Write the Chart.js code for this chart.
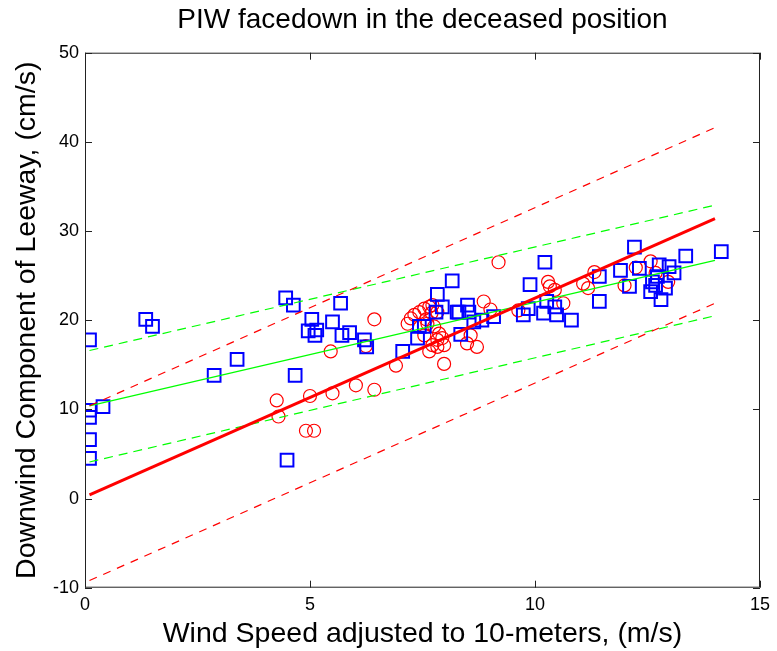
<!DOCTYPE html>
<html>
<head>
<meta charset="utf-8">
<script src="https://cdn.jsdelivr.net/npm/chart.js@4.4.1/dist/chart.umd.min.js"></script>
<style>
  html, body { margin: 0; padding: 0; background: #fff; }
  #wrap { width: 777px; height: 651px; }
</style>
</head>
<body>
<div id="wrap"><canvas id="c" width="777" height="651"></canvas></div>
<script>
// ---- data ----
const squaresX = [0.1,0.1,0.1,0.1,0.1,0.4,1.35,1.5,2.87,3.38,4.46,4.63,4.67,4.49,5.04,4.96,5.11,5.15,5.5,5.68,5.71,5.88,6.21,6.26,7.06,7.39,7.43,7.54,7.8,7.83,7.94,8.16,8.27,8.31,8.35,8.5,8.53,8.64,8.82,9.08,9.74,9.85,9.89,10.19,10.22,10.26,10.44,10.48,10.81,11.43,11.43,11.9,12.1,12.21,12.32,12.57,12.61,12.68,12.72,12.76,12.8,12.9,12.98,13.09,13.35,14.14];
const squaresY = [17.8,9.9,9.1,6.6,4.5,10.3,20.1,19.3,13.8,15.6,22.5,21.7,13.8,4.3,20.1,18.8,18.3,18.9,19.8,21.9,18.3,18.6,17.8,17.0,16.5,18.0,19.3,19.3,20.9,22.9,21.5,24.4,20.9,20.9,18.4,21.7,20.9,19.8,20.0,20.4,20.6,21.3,24.0,20.8,26.5,22.1,21.5,20.6,20.0,24.9,22.1,25.6,23.8,28.2,25.8,23.2,24.3,23.9,24.9,26.2,22.3,23.6,26.0,25.3,27.2,27.7];
const circlesX = [4.26,4.3,4.91,5.09,5.0,5.46,5.5,6.02,6.24,6.43,6.43,6.91,7.17,7.24,7.32,7.43,7.54,7.65,7.72,7.83,7.61,7.76,7.54,7.87,7.94,7.72,7.83,7.65,7.98,7.98,7.7,7.58,7.83,8.49,8.71,8.57,8.86,9.01,9.19,9.63,10.29,10.33,10.44,10.63,11.07,11.18,11.32,11.99,12.24,12.57,12.68,12.96];
const circlesY = [11.0,9.2,7.6,7.6,11.5,16.5,11.8,12.7,17.1,20.1,12.2,14.9,19.6,20.2,20.6,20.9,21.3,21.5,21.7,20.9,19.6,19.3,18.3,18.5,18.0,17.2,17.0,16.5,17.2,15.1,20.8,20.1,17.8,17.4,17.0,18.3,22.1,21.2,26.5,21.1,24.3,23.8,23.4,21.9,24.1,23.6,25.4,23.9,25.9,26.6,25.3,24.3];
// fitted lines: value at start x and end x
const lineX = [0.1, 14.0];
const fitRed = [0.4, 31.4];
const fitRedUpper = [10.4, 41.6];
const fitRedLower = [-9.2, 21.9];
const fitGreen = [10.4, 26.7];
const fitGreenUpper = [16.6, 32.9];
const fitGreenLower = [4.1, 20.5];
const xTicks = [0, 5, 10, 15];
const yTicks = [-10, 0, 10, 20, 30, 40, 50];

const pts = (xs, ys) => xs.map((x, i) => ({x, y: ys[i]}));
const FONT = "'Liberation Sans', Arial, Helvetica, sans-serif";

function lineDs(ys, color, width, dash, order) {
  return { type: 'scatter', data: pts(lineX, ys), showLine: true, borderColor: color,
           backgroundColor: color, borderWidth: width, borderDash: dash, pointRadius: 0,
           pointHoverRadius: 0, order };
}

const frame = {
  id: 'frame',
  afterDatasetsDraw(chart) {
    const {ctx, chartArea: a, scales: {x, y}} = chart;
    ctx.save();
    ctx.strokeStyle = '#222';
    ctx.lineWidth = 1;
    ctx.strokeRect(a.left + 0.5, a.top + 0.5, a.right - a.left - 1, a.bottom - a.top - 1);
    const tl = 7;
    ctx.beginPath();
    xTicks.forEach(v => {
      const px = Math.round(x.getPixelForValue(v)) + 0.5;
      ctx.moveTo(px, a.bottom); ctx.lineTo(px, a.bottom - tl);
      ctx.moveTo(px, a.top); ctx.lineTo(px, a.top + tl);
    });
    yTicks.forEach(v => {
      const py = Math.round(y.getPixelForValue(v)) + 0.5;
      ctx.moveTo(a.left, py); ctx.lineTo(a.left + tl, py);
      ctx.moveTo(a.right, py); ctx.lineTo(a.right - tl, py);
    });
    ctx.stroke();
    ctx.restore();
  }
};

new Chart(document.getElementById('c'), {
  type: 'scatter',
  data: {
    datasets: [
      lineDs(fitRed, '#ff0000', 3, [], 0),
      lineDs(fitRedUpper, '#ff0000', 1.2, [8, 7], 0),
      lineDs(fitRedLower, '#ff0000', 1.2, [8, 7], 0),
      lineDs(fitGreen, '#00ff00', 1.2, [], 1),
      lineDs(fitGreenUpper, '#00ff00', 1.2, [9, 6], 1),
      lineDs(fitGreenLower, '#00ff00', 1.2, [9, 6], 1),
      { data: pts(squaresX, squaresY), pointStyle: 'rect', pointRadius: 9, pointBorderWidth: 2,
        borderColor: '#0000ff', backgroundColor: 'rgba(0,0,0,0)', showLine: false, order: 2 },
      { data: pts(circlesX, circlesY), pointStyle: 'circle', pointRadius: 6.5, pointBorderWidth: 1.2,
        borderColor: '#ff0000', backgroundColor: 'rgba(0,0,0,0)', showLine: false, order: 3 }
    ]
  },
  options: {
    responsive: false,
    animation: false,
    layout: { padding: { left: 0, right: 12, top: 0, bottom: 0 } },
    plugins: {
      legend: { display: false },
      tooltip: { enabled: false },
      title: { display: true, fullSize: false, text: 'PIW facedown in the deceased position', color: '#000',
               font: { family: FONT, size: 28, weight: 'normal', lineHeight: 1.2 },
               padding: { top: 3, bottom: 16.1 } }
    },
    scales: {
      x: {
        type: 'linear', min: 0, max: 15,
        afterBuildTicks: s => { s.ticks = xTicks.map(v => ({value: v})); },
        afterFit: s => { s.height = 63.3; },
        grid: { display: false, drawTicks: false, tickLength: 0 },
        border: { display: false },
        ticks: { color: '#000', padding: 7, font: { family: FONT, size: 18 } },
        title: { display: true, text: 'Wind Speed adjusted to 10-meters, (m/s)', color: '#000',
                 font: { family: FONT, size: 28.5, lineHeight: 1.2 }, padding: { top: 0, bottom: 0 } }
      },
      y: {
        type: 'linear', min: -10, max: 50,
        afterBuildTicks: s => { s.ticks = yTicks.map(v => ({value: v})); },
        afterFit: s => { s.width = 85; },
        grid: { display: false, drawTicks: false, tickLength: 0 },
        border: { display: false },
        ticks: { color: '#000', padding: 6, font: { family: FONT, size: 18 } },
        title: { display: true, text: 'Downwind Component of Leeway, (cm/s)', color: '#000',
                 font: { family: FONT, size: 28.5, lineHeight: 1.2 }, padding: { top: 9.9, bottom: 0 } }
      }
    }
  },
  plugins: [frame]
});
</script>
</body>
</html>
